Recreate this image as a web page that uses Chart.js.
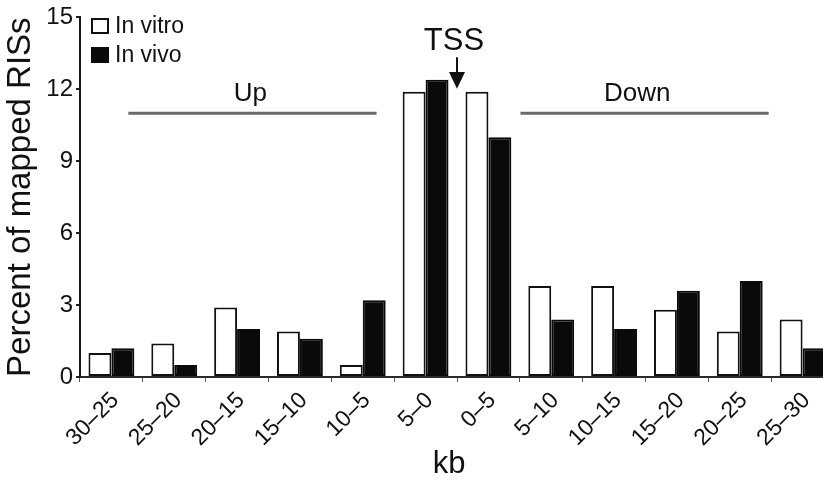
<!DOCTYPE html>
<html>
<head>
<meta charset="utf-8">
<script src="https://cdn.jsdelivr.net/npm/chart.js@4.4.1/dist/chart.umd.min.js"></script>
<style>
  html, body { margin: 0; padding: 0; background: #fff; overflow: hidden; }
  #wrap { position: relative; width: 836px; height: 480px; }
</style>
</head>
<body>
<div id="wrap"><canvas id="c"></canvas></div>
<script>
// Distance bins relative to the transcription start site (kb)
const categories = ['30–25', '25–20', '20–15', '15–10', '10–5', '5–0',
                    '0–5', '5–10', '10–15', '15–20', '20–25', '25–30'];
// Percent of mapped RISs per bin
const inVitro = [1.0, 1.4, 2.9, 1.9, 0.5, 11.9, 11.9, 3.8, 3.8, 2.8, 1.9, 2.4];
const inVivo  = [1.2, 0.5, 2.0, 1.6, 3.2, 12.4, 10.0, 2.4, 2.0, 3.6, 4.0, 1.2];
const yTicks = [0, 3, 6, 9, 12, 15];
const seriesNames = ['In vitro', 'In vivo'];

const FONT = '"Liberation Sans", Arial, Helvetica, sans-serif';
const INK = '#111';

// Legend, Up/Down brackets, TSS arrow and the x-axis title
const annotations = {
  id: 'annotations',
  afterDraw(chart) {
    const ctx = chart.ctx;
    const x = chart.scales.x, y = chart.scales.y;
    ctx.save();

    // legend
    const ds = chart.data.datasets;
    ctx.font = '23px ' + FONT;
    ctx.textBaseline = 'alphabetic';
    ctx.textAlign = 'left';
    ds.forEach((d, i) => {
      const top = 18 + i * 29;
      ctx.fillStyle = d.backgroundColor;
      ctx.fillRect(91, top, 18, 16);
      ctx.strokeStyle = d.borderColor;
      ctx.lineWidth = 2;
      ctx.strokeRect(92, top + 1, 16, 14);
      ctx.fillStyle = INK;
      ctx.fillText(d.label, 115, top + 15);
    });

    // Up / Down brackets
    ctx.strokeStyle = '#6a6a6a';
    ctx.lineWidth = 3;
    const yLine = y.getPixelForValue(11);
    [[0.27, 4.22], [6.51, 10.46]].forEach(([a, b]) => {
      ctx.beginPath();
      ctx.moveTo(x.getPixelForValue(a), yLine);
      ctx.lineTo(x.getPixelForValue(b), yLine);
      ctx.stroke();
    });
    ctx.fillStyle = INK;
    ctx.font = '26px ' + FONT;
    ctx.textAlign = 'center';
    ctx.fillText('Up', x.getPixelForValue(2.21), y.getPixelForValue(11.5));
    ctx.fillText('Down', x.getPixelForValue(8.37), y.getPixelForValue(11.5));

    // TSS arrow at the 5–0 / 0–5 boundary
    const xt = x.getPixelForValue(5.5);
    ctx.font = '31px ' + FONT;
    ctx.fillText('TSS', xt - 3, y.getPixelForValue(13.63));
    ctx.strokeStyle = INK;
    ctx.lineWidth = 2;
    ctx.beginPath();
    ctx.moveTo(xt, y.getPixelForValue(13.34));
    ctx.lineTo(xt, y.getPixelForValue(12.7));
    ctx.stroke();
    ctx.beginPath();
    ctx.moveTo(xt - 8, y.getPixelForValue(12.72));
    ctx.lineTo(xt + 8, y.getPixelForValue(12.72));
    ctx.lineTo(xt, y.getPixelForValue(12.02));
    ctx.closePath();
    ctx.fill();

    // x-axis title
    ctx.font = '31px ' + FONT;
    ctx.textBaseline = 'alphabetic';
    ctx.fillText('kb', 449, 473);

    ctx.restore();
  }
};

new Chart(document.getElementById('c'), {
  type: 'bar',
  data: {
    labels: categories,
    datasets: [
      {
        label: seriesNames[0],
        data: inVitro,
        backgroundColor: '#ffffff',
        borderColor: INK,
        borderWidth: 2,
        borderSkipped: false
      },
      {
        label: seriesNames[1],
        data: inVivo,
        backgroundColor: '#0a0a0a',
        borderColor: '#0a0a0a',
        borderWidth: 2,
        borderSkipped: false
      }
    ]
  },
  options: {
    responsive: true,
    maintainAspectRatio: false,
    animation: false,
    devicePixelRatio: 1,
    layout: { padding: { top: 15, right: 2, left: 0, bottom: 0 } },
    datasets: { bar: { categoryPercentage: 0.73, barPercentage: 1.0 } },
    plugins: { legend: { display: false }, tooltip: { enabled: false } },
    scales: {
      x: {
        afterFit(s) { s.height = 103; },
        grid: { display: true, drawOnChartArea: false, drawTicks: true, tickLength: 5, color: '#555', lineWidth: 1, offset: true },
        border: { display: true, color: '#2a2a2a', width: 2 },
        ticks: {
          color: INK,
          font: { family: FONT, size: 23 },
          minRotation: 45,
          maxRotation: 45,
          autoSkip: false,
          padding: 5,
          labelOffset: 4
        }
      },
      y: {
        min: 0,
        max: 15,
        afterFit(s) { s.width = 80; },
        afterBuildTicks(s) { s.ticks = yTicks.map(v => ({ value: v })); },
        grid: { display: true, drawOnChartArea: false, drawTicks: true, tickLength: 4, color: '#222', lineWidth: 2 },
        border: { display: true, color: '#1a1a1a', width: 2 },
        ticks: { color: INK, font: { family: FONT, size: 24 }, padding: 3 },
        title: {
          display: true,
          text: 'Percent of mapped RISs',
          color: INK,
          font: { family: FONT, size: 33 },
          padding: { top: 1, bottom: 0 }
        }
      }
    }
  },
  plugins: [annotations]
});
</script>
</body>
</html>
